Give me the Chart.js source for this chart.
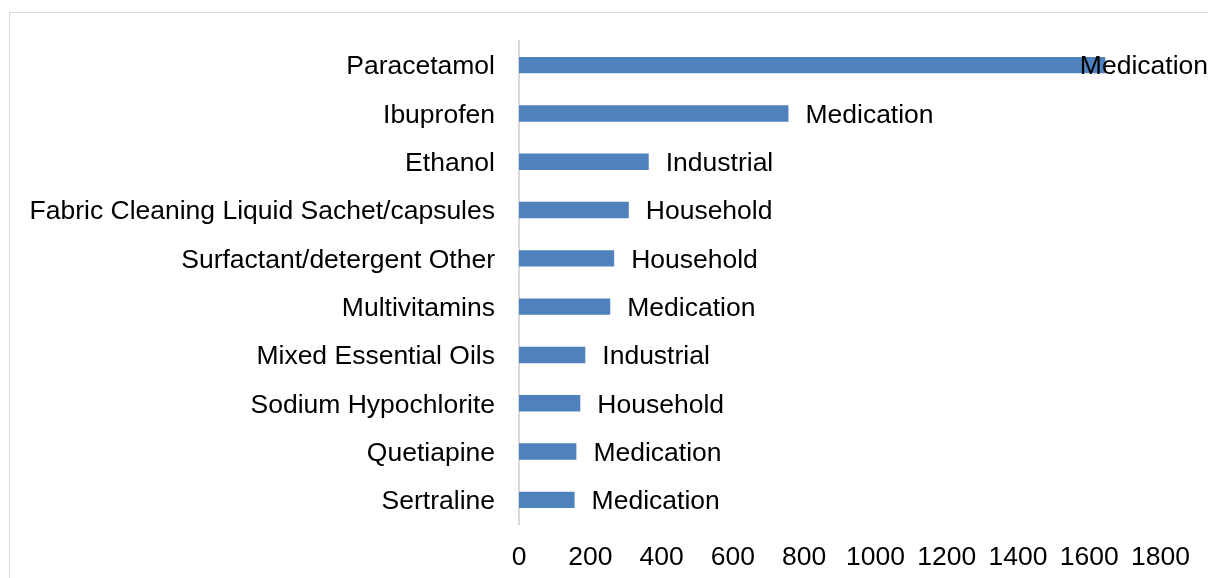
<!DOCTYPE html>
<html>
<head>
<meta charset="utf-8">
<script src="https://cdn.jsdelivr.net/npm/chart.js@4.4.0/dist/chart.umd.min.js"></script>
<style>
  html, body { margin: 0; padding: 0; background: #fff; overflow: hidden; }
  #wrap { position: relative; width: 1208px; height: 578px; }
  #frame { position: absolute; left: 9px; top: 12px; width: 1400px; height: 800px; border: 1px solid #d9d9d9; box-sizing: border-box; }
  canvas { position: absolute; left: 0; top: 0; }
</style>
</head>
<body>
<div id="wrap">
  <div id="frame"></div>
  <canvas id="c" width="1208" height="578"></canvas>
</div>
<script>
const categories = ["Paracetamol", "Ibuprofen", "Ethanol", "Fabric Cleaning Liquid Sachet/capsules", "Surfactant/detergent Other", "Multivitamins", "Mixed Essential Oils", "Sodium Hypochlorite", "Quetiapine", "Sertraline"];
const values = [1645, 756, 364, 308, 267, 256, 186, 172, 161, 156];
const types = ["Medication", "Medication", "Industrial", "Household", "Household", "Medication", "Industrial", "Household", "Medication", "Medication"];
const xTicks = [0, 200, 400, 600, 800, 1000, 1200, 1400, 1600, 1800];

const FONT = "Liberation Sans, Arial, sans-serif";
const FS = 26.5;

const labelPlugin = {
  id: 'typeLabels',
  afterDatasetsDraw(chart) {
    const ctx = chart.ctx;
    const meta = chart.getDatasetMeta(0);
    ctx.save();
    ctx.font = FS + "px " + FONT;
    ctx.fillStyle = "#000";
    ctx.textBaseline = "middle";
    ctx.textAlign = "left";
    meta.data.forEach((bar, i) => {
      const t = types[i];
      const w = ctx.measureText(t).width;
      let x = bar.x + 17;
      if (x + w > chart.width) x = chart.width - w;
      ctx.fillText(t, x, bar.y + 2);
    });
    ctx.restore();
  }
};

new Chart(document.getElementById('c'), {
  type: 'bar',
  data: {
    labels: categories,
    datasets: [{
      data: values,
      backgroundColor: "#4f81bd",
      borderWidth: 0,
      categoryPercentage: 1.0,
      barPercentage: 0.34
    }]
  },
  options: {
    indexAxis: 'y',
    responsive: false,
    animation: false,
    devicePixelRatio: 1,
    layout: { padding: { top: 41, right: 41, bottom: 0, left: 0 } },
    plugins: { legend: { display: false }, tooltip: { enabled: false } },
    scales: {
      x: {
        min: 0, max: 1800,
        afterBuildTicks(scale) { scale.ticks = xTicks.map(v => ({ value: v })); },
        afterFit(scale) { scale.height = 578 - 524; },
        grid: { display: false, drawTicks: false },
        border: { display: false },
        ticks: { color: "#000", padding: 18, maxRotation: 0, autoSkip: false, callback: v => String(v), font: { family: FONT, size: FS } }
      },
      y: {
        afterFit(scale) { scale.width = 519; },
        grid: { display: false, drawTicks: false },
        border: { display: true, color: "#d9d9d9", width: 2 },
        ticks: { color: "#000", padding: 24, labelOffset: 2, autoSkip: false, font: { family: FONT, size: FS } }
      }
    }
  },
  plugins: [labelPlugin]
});
</script>
</body>
</html>
